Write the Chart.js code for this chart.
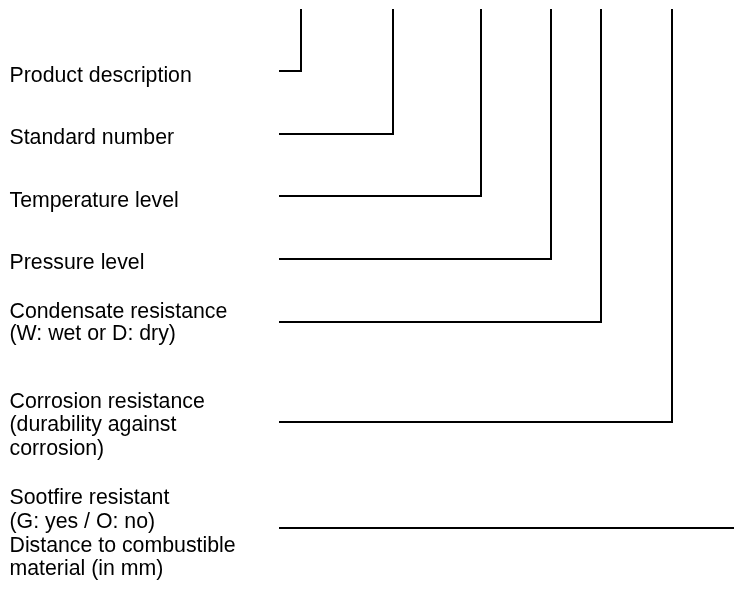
<!DOCTYPE html>
<html>
<head>
<meta charset="utf-8">
<script src="https://cdn.jsdelivr.net/npm/chart.js@4.4.1/dist/chart.umd.min.js"></script>
<style>
  html, body { margin: 0; padding: 0; background: #ffffff; }
  #wrap { width: 734px; height: 597px; position: relative; }
</style>
</head>
<body>
<div id="wrap"><canvas id="keyChart"></canvas></div>
<script>
// Diagram units: one unit per pixel, y counted down from the top.

// Label text, one entry per item (lines of a multi-line label)
const labels = [
    ["Product description"],
    ["Standard number"],
    ["Temperature level"],
    ["Pressure level"],
    ["Condensate resistance", "(W: wet or D: dry)"],
    ["Corrosion resistance", "(durability against", "corrosion)"],
    ["Sootfire resistant", "(G: yes / O: no)", "Distance to combustible", "material (in mm)"]
];
// baseline of each text line
const labelBaselines = [
    [82],
    [144],
    [207],
    [269],
    [318, 340],
    [408, 431, 455],
    [504, 528, 552, 575]
];

// Leader lines: horizontal level, and x where each one turns up (null = runs to the edge)
const leaderY = [71, 134, 196, 259, 322, 422, 528];
const leaderTurnX = [301, 393, 481, 551, 601, 672, null];
const leaderStartX = 279;
const leaderTopY = 9;
const axisMaxX = 734;
const axisMaxY = 597;

const datasets = leaderY.map((y, i) => {
    const pts = [{ x: leaderStartX, y: y }];
    if (leaderTurnX[i] === null) {
        pts.push({ x: axisMaxX, y: y });
    } else {
        pts.push({ x: leaderTurnX[i], y: y });
        pts.push({ x: leaderTurnX[i], y: leaderTopY });
    }
    return {
        data: pts,
        showLine: true,
        borderColor: '#000000',
        borderWidth: 2,
        pointRadius: 0,
        tension: 0,
        borderJoinStyle: 'miter',
        borderCapStyle: 'butt',
        fill: false
    };
});

// draw the left-hand label text through the scales
const labelPlugin = {
    id: 'labelText',
    afterDatasetsDraw(chart) {
        const ctx = chart.ctx;
        const xs = chart.scales.x;
        const ys = chart.scales.y;
        ctx.save();
        ctx.fillStyle = '#000000';
        ctx.font = "21.3px 'Liberation Sans', Arial, sans-serif";
        ctx.textBaseline = 'alphabetic';
        ctx.textAlign = 'left';
        labels.forEach((lines, i) => {
            lines.forEach((txt, j) => {
                ctx.fillText(txt, xs.getPixelForValue(9.5), ys.getPixelForValue(labelBaselines[i][j]));
            });
        });
        ctx.restore();
    }
};

new Chart(document.getElementById('keyChart'), {
    type: 'scatter',
    data: { datasets: datasets },
    options: {
        responsive: true,
        maintainAspectRatio: false,
        animation: false,
        layout: { padding: 0 },
        plugins: {
            legend: { display: false },
            tooltip: { enabled: false }
        },
        scales: {
            x: { type: 'linear', min: 0, max: axisMaxX, display: false },
            y: { type: 'linear', min: 0, max: axisMaxY, reverse: true, display: false }
        }
    },
    plugins: [labelPlugin]
});
</script>
</body>
</html>
